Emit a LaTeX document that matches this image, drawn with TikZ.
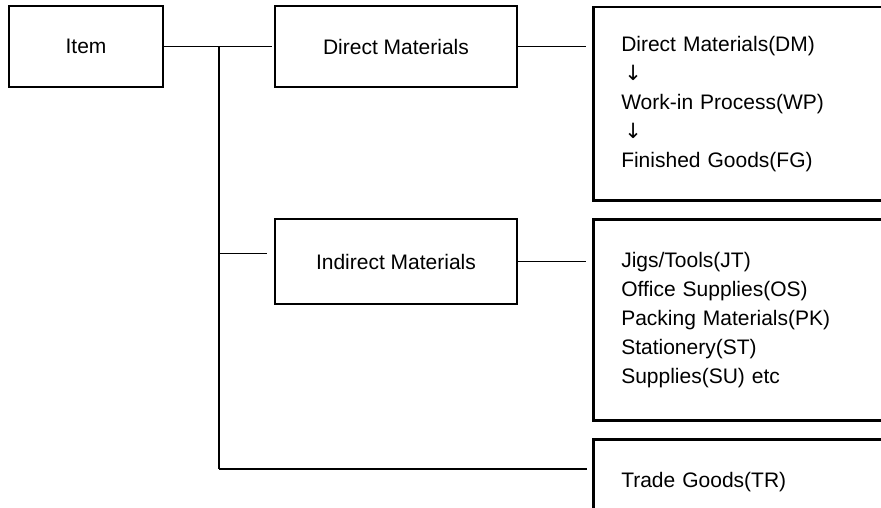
\documentclass[tikz,border=0pt]{standalone}
\usepackage{fontspec}
\setmainfont{Liberation Sans}
\newfontfamily\arrowfont{DejaVu Sans}
\usetikzlibrary{positioning,calc}
\newcommand{\itembox}[3][]{\node[draw,line width=2.5pt,
  minimum width=242pt,minimum height=81pt,align=center,#1] (#2) {#3};}
\newcommand{\listbox}[4][]{\node[draw,line width=2.5pt,anchor=north west,
  minimum height=#3,text width=280pt,inner xsep=28pt,align=left,#1] (#2) {#4};}
\newcommand{\down}{\hspace{3pt}{\arrowfont\char"2193}}

\begin{document}
\begin{tikzpicture}[x=1pt,y=-1pt,node distance=16.5pt and 109.5pt,
  font=\fontsize{21}{29}\selectfont,line width=1.6pt]
\useasboundingbox (0,0) rectangle (881,508);
\clip (0,0) rectangle (881,508);
\itembox[minimum width=154pt,at={(86,46.5)}]{item}{Item}
\itembox[right=of item]{dm}{Direct Materials}
\itembox[below=129.5pt of dm,minimum height=85pt]{im}{Indirect Materials}
\listbox[at={(592,6)}]{dmlist}{193pt}{Direct Materials(DM)\\\down\\Work-in Process(WP)\\\down\\Finished Goods(FG)}
\listbox[below=of dmlist]{imlist}{201pt}{Jigs/Tools(JT)\\Office Supplies(OS)\\Packing Materials(PK)\\Stationery(ST)\\Supplies(SU) etc}
\listbox[below=of imlist]{trlist}{85pt}{Trade Goods(TR)}
% tree lines
\coordinate (fork) at ($(item.east)!0.5!(dm.west)$);
\coordinate (base) at (fork |- 0,469);
\draw[shorten >=2pt] (item.east) -- (dm.west);
\draw (fork) -- (base);
\draw[shorten >=7pt] (fork |- 0,253.5) -- (im.west |- 0,253.5);
\draw[shorten >=5pt] (base) -- (base -| trlist.west);
\draw[shorten >=6pt] (dm.east) -- (dm.east -| dmlist.west);
\draw[shorten >=6pt] (im.east) -- (im.east -| imlist.west);
\end{tikzpicture}
\end{document}
